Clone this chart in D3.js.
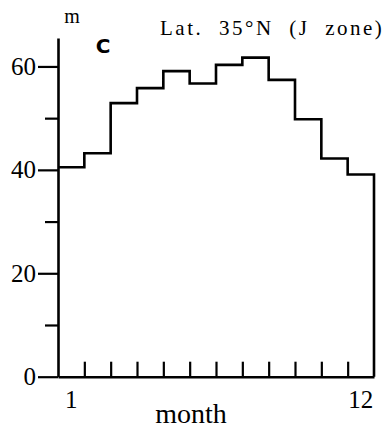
<!DOCTYPE html>
<html>
<head>
<meta charset="utf-8">
<script src="https://cdn.jsdelivr.net/npm/d3@7"></script>
<style>
  body { margin: 0; background: #fff; }
  svg { display: block; }
</style>
</head>
<body>
<div id="chart"></div>
<script>
const months = [1, 2, 3, 4, 5, 6, 7, 8, 9, 10, 11, 12];
const heights = [40.5, 43.2, 52.9, 55.8, 59.1, 56.7, 60.3, 61.7, 57.4, 49.8, 42.2, 39.1];
const majorTicks = [0, 20, 40, 60];
const minorTicks = [10, 30, 50];
const monthLabels = [1, 12];

const width = 389;
const height = 429;
const serif = '"Liberation Serif", "Times New Roman", Times, serif';

const svg = d3.select("#chart")
  .append("svg")
  .attr("width", width)
  .attr("height", height);

// x in month-boundary units: 0 = start of Jan, 12 = end of Dec
const x = d3.scaleLinear()
  .domain([0, 12])
  .range([58, 374]);

const y = d3.scaleLinear()
  .domain([0, 65.5])
  .range([376.7, 38]);

// step line
const steps = heights.map((h, i) => [i, h]);
steps.push([12, heights[11]]);
steps.push([12, 0]);

const line = d3.line()
  .x(d => x(d[0]))
  .y(d => y(d[1]))
  .curve(d3.curveStepAfter);

svg.append("path")
  .datum(steps)
  .attr("d", line)
  .attr("fill", "none")
  .attr("stroke", "#000")
  .attr("stroke-width", 2.6);

// left axis (major ticks with labels)
const gy = svg.append("g")
  .attr("transform", `translate(${x(0)},0)`)
  .call(d3.axisLeft(y)
    .tickValues(majorTicks)
    .tickSizeInner(20)
    .tickSizeOuter(0)
    .tickPadding(2));

gy.attr("font-family", null).attr("font-size", null);
gy.select(".domain").attr("stroke-width", 2.6);
gy.selectAll(".tick line").attr("stroke-width", 2.2);
gy.selectAll(".tick text")
  .style("font-family", serif)
  .style("font-size", "25px")
  .attr("fill", "#000");

// minor ticks
const gm = svg.append("g")
  .attr("transform", `translate(${x(0)},0)`)
  .call(d3.axisLeft(y)
    .tickValues(minorTicks)
    .tickSizeInner(13)
    .tickSizeOuter(0)
    .tickFormat(""));
gm.select(".domain").remove();
gm.selectAll(".tick line").attr("stroke-width", 2.2);

// bottom axis with month ticks pointing up
const gx = svg.append("g")
  .attr("transform", `translate(0,${y(0)})`)
  .call(d3.axisBottom(x)
    .tickValues(d3.range(1, 12))
    .tickSizeInner(-15)
    .tickSizeOuter(0)
    .tickFormat(""));
gx.select(".domain").attr("stroke-width", 2.6);
gx.selectAll(".tick line").attr("stroke-width", 2.2);

// month labels at month centres
svg.selectAll(".mlabel")
  .data(monthLabels)
  .join("text")
  .attr("class", "mlabel")
  .attr("x", d => x(d - 0.5))
  .attr("y", 408)
  .attr("text-anchor", "middle")
  .style("font-family", serif)
  .style("font-size", "25px")
  .text(d => d);

svg.append("text")
  .attr("x", 191)
  .attr("y", 423)
  .attr("text-anchor", "middle")
  .style("font-family", serif)
  .style("font-size", "28px")
  .text("month");

svg.append("text")
  .attr("x", 72)
  .attr("y", 23)
  .attr("text-anchor", "middle")
  .style("font-family", serif)
  .style("font-size", "20px")
  .text("m");

svg.append("text")
  .attr("x", 103)
  .attr("y", 53)
  .attr("text-anchor", "middle")
  .style("font-family", '"DejaVu Sans", sans-serif')
  .style("font-weight", "bold")
  .style("font-size", "20px")
  .text("C");

svg.append("text")
  .attr("x", 160)
  .attr("y", 35)
  .style("font-family", serif)
  .style("font-size", "21px")
  .style("letter-spacing", "2.5px")
  .style("word-spacing", "8px")
  .text("Lat. 35°N (J zone)");
</script>
</body>
</html>
